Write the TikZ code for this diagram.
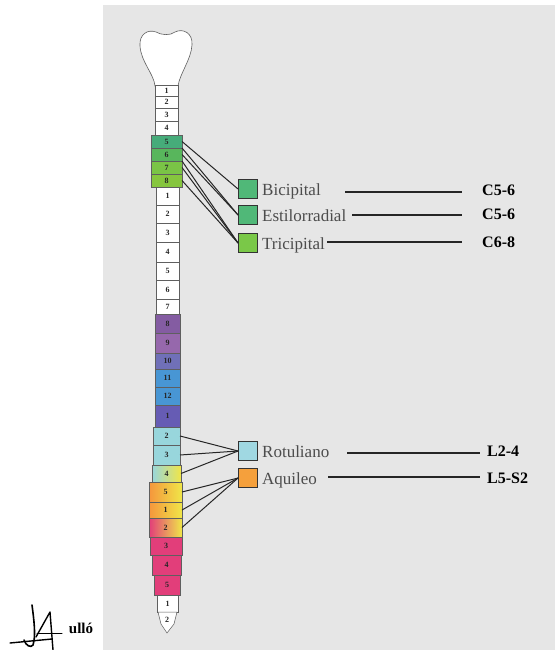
\documentclass[tikz,border=0pt]{standalone}
\usepackage{fontspec}
\setmainfont{Liberation Serif}

\definecolor{panel}{RGB}{230,230,230}
\definecolor{boneline}{RGB}{95,95,95}
\definecolor{gfive}{RGB}{70,172,122}
\definecolor{gsix}{RGB}{88,182,92}
\definecolor{gseven}{RGB}{122,196,70}
\definecolor{geight}{RGB}{134,198,62}
\definecolor{pureight}{RGB}{132,92,162}
\definecolor{purnine}{RGB}{150,104,172}
\definecolor{purten}{RGB}{112,112,184}
\definecolor{bluet}{RGB}{72,150,212}
\definecolor{violl}{RGB}{102,92,180}
\definecolor{cyanl}{RGB}{152,214,220}
\definecolor{yellowl}{RGB}{240,230,72}
\definecolor{orangel}{RGB}{245,150,60}
\definecolor{pinks}{RGB}{226,62,122}
\definecolor{kbic}{RGB}{80,184,120}
\definecolor{ktri}{RGB}{122,200,72}
\definecolor{krot}{RGB}{160,216,226}
\definecolor{kaqu}{RGB}{245,160,60}

\begin{document}
\begin{tikzpicture}[x=1pt,y=-1pt,
    bone/.style={draw=boneline,line width=0.6pt,fill=white},
    vert/.style={draw=boneline,line width=0.5pt,rectangle,inner sep=0pt,outer sep=0pt,
      font=\fontsize{8}{8}\selectfont\bfseries,text=black!85},
    wh/.style={fill=white},
    gC5/.style={fill=gfive},
    gC6/.style={fill=gsix},
    gC7/.style={fill=gseven},
    gC8/.style={fill=geight},
    pT8/.style={fill=pureight},
    pT9/.style={fill=purnine},
    pT10/.style={fill=purten},
    bT/.style={fill=bluet},
    vL1/.style={fill=violl},
    cyL/.style={fill=cyanl},
    cyYe/.style={left color=cyanl,right color=yellowl},
    orYe/.style={left color=orangel,right color=yellowl},
    piYe/.style={left color=pinks,right color=yellowl},
    piS/.style={fill=pinks},
    key/.style={draw=black!80,line width=0.9pt,minimum size=19pt,inner sep=0pt},
    reflex/.style={anchor=base west,inner sep=0pt,text=black!70,font=\fontsize{17}{17}\selectfont},
    level/.style={anchor=base west,inner sep=0pt,font=\fontsize{16}{16}\selectfont\bfseries},
    nerve/.style={draw=black!85,line width=1pt},
    lead/.style={draw=black!85,line width=1.2pt}]

  \useasboundingbox (0,0) rectangle (555,650);
  \fill[panel] (103,5) rectangle (555,650);

  % skull
  \draw[bone] (155,86) .. controls (154,74) and (141,62) .. (140,46)
    .. controls (139,34) and (148,29) .. (156,32)
    .. controls (161,35) and (170,36) .. (175,32)
    .. controls (183,28) and (193,33) .. (192,45)
    .. controls (191,60) and (180,73) .. (178,86) -- cycle;

  % vertebrae: name/label/top/bottom/left/right/fill
  \foreach \n/\lab/\yt/\yb/\xl/\xr/\col in {
      c1/1/85/96/155/178/wh, c2/2/96/108/155/178/wh, c3/3/108/121/155/178/wh,
      c4/4/121/135/155/178/wh, c5/5/135/148/151/182/gC5, c6/6/148/161/151/182/gC6,
      c7/7/161/174/151/182/gC7, c8/8/174/187/151/182/gC8,
      t1/1/187/205/156/179/wh, t2/2/205/223/156/179/wh, t3/3/223/242/156/179/wh,
      t4/4/242/262/156/179/wh, t5/5/262/280/156/179/wh, t6/6/280/299/156/179/wh,
      t7/7/299/314/156/179/wh, t8/8/314/333/155/180/pT8, t9/9/333/353/155/180/pT9,
      t10/10/353/369/155/180/pT10, t11/11/369/387/155/180/bT, t12/12/387/405/155/180/bT,
      l1/1/405/427/155/180/vL1, l2/2/427/445/153/180/cyL, l3/3/445/465/153/180/cyL,
      l4/4/465/482/152/181/cyYe, l5/5/482/502/149/182/orYe,
      s1/1/502/518/149/182/orYe, s2/2/518/537/149/182/piYe, s3/3/537/555/150/182/piS,
      s4/4/555/575/152/181/piS, s5/5/575/595/154/180/piS,
      co1/1/595/612/157/178/wh}
    \node[vert,\col,minimum width={(\xr-\xl)*1pt},minimum height={(\yb-\yt)*1pt}]
      (\n) at ({(\xl+\xr)/2},{(\yt+\yb)/2}) {\lab};
  \draw[bone,line width=0.5pt] (158,612) -- (177,612) -- (174,624) -- (167,633) -- (161,624) -- cycle;
  \node[vert,draw=none] (co2) at (167,620) {2};

  % reflex keys
  \node[key,fill=kbic] (bic) at (248,189) {};
  \node[key,fill=kbic] (est) at (248,215) {};
  \node[key,fill=ktri] (tri) at (248,243) {};
  \node[key,fill=krot] (rot) at (248,451) {};
  \node[key,fill=kaqu] (aqu) at (248,478) {};

  \node[reflex] (bicT) at (262,195) {Bicipital};
  \node[reflex] (estT) at (262,221) {Estilorradial};
  \node[reflex] (triT) at (262,249) {Tricipital};
  \node[reflex] (rotT) at (262,457) {Rotuliano};
  \node[reflex] (aquT) at (262,484) {Aquileo};

  \node[level] (bicN) at (482,195) {C5-6};
  \node[level] (estN) at (482,219) {C5-6};
  \node[level] (triN) at (482,247) {C6-8};
  \node[level] (rotN) at (487,456) {L2-4};
  \node[level] (aquN) at (487,483) {L5-S2};

  \coordinate (bicA) at (345,192);
  \coordinate (estA) at (352,215);
  \coordinate (triA) at (327,242);
  \coordinate (rotA) at (347,453);
  \coordinate (aquA) at (328,477);
  \draw[lead,shorten >=20pt] (bicA) -- (bicA -| bicN.west);
  \draw[lead,shorten >=20pt] (estA) -- (estA -| estN.west);
  \draw[lead,shorten >=20pt] (triA) -- (triA -| triN.west);
  \draw[lead,shorten >=7pt] (rotA) -- (rotA -| rotN.west);
  \draw[lead,shorten >=7pt] (aquA) -- (aquA -| aquN.west);

  % roots to reflexes
  \draw[nerve] (c5.east) -- (bic.west);
  \draw[nerve] (c5.south east) -- (est.west);
  \draw[nerve] (c6.east) -- (est.west);
  \foreach \v in {c6.south east,c7.east,c8.east}
    \draw[nerve] (\v) -- (tri.west);
  \foreach \v in {l2,l3,l4}
    \draw[nerve] (\v.east) -- (rot.west);
  \foreach \v in {l5,s1,s2}
    \draw[nerve] (\v.east) -- (aqu.west);

  % signature
  \draw[line width=1.4pt,line cap=round] (10,643) -- (52,639);
  \draw[line width=1.6pt,line cap=round] (32,605) .. controls (34,620) and (36,636) .. (33,645) .. controls (31,648) and (26,646) .. (24,640);
  \draw[line width=1.4pt,line cap=round,line join=round] (36,637) -- (50,612) -- (53,650);
  \draw[line width=1pt,line cap=round] (37,633) -- (62,633);
  \node[font=\fontsize{15}{15}\selectfont\bfseries] (sig) at (81,628) {ulló};
\end{tikzpicture}
\end{document}
